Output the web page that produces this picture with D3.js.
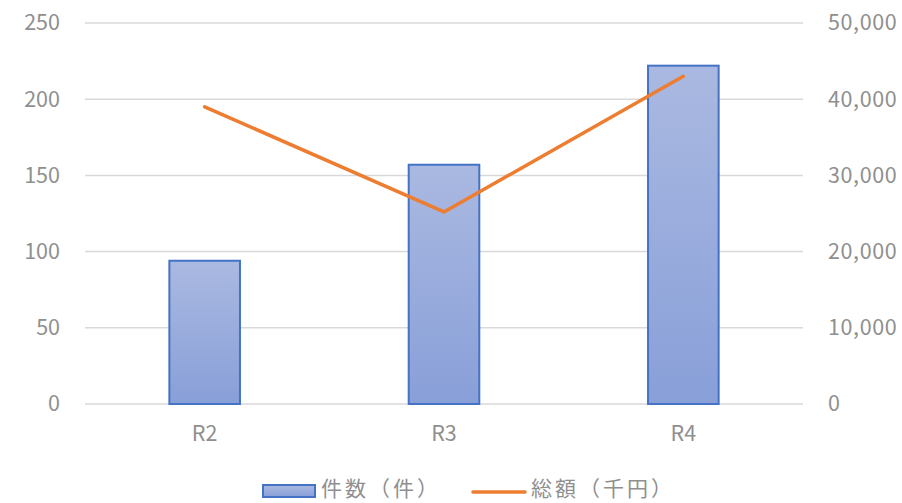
<!DOCTYPE html>
<html>
<head>
<meta charset="utf-8">
<script src="https://cdn.jsdelivr.net/npm/d3@7"></script>
<style>
  body { margin: 0; background: #fff; }
  text { font-family: "Noto Sans CJK JP", "Noto Sans", sans-serif; }
</style>
</head>
<body>
<div id="chart"></div>
<script>
// data
var categories = ["R2", "R3", "R4"];
var countValues = [94, 157, 222];        // 件数（件）
var amountValues = [39000, 25200, 43000]; // 総額（千円）
var leftTicks = [0, 50, 100, 150, 200, 250];
var rightTicks = [0, 10000, 20000, 30000, 40000, 50000];

var svgWidth = 902;
var svgHeight = 503;
var margin = { top: 23, right: 99, bottom: 99, left: 85 };
var width = svgWidth - margin.left - margin.right;
var height = svgHeight - margin.top - margin.bottom;
var textColor = "#8f8f8f";

var svg = d3.select("#chart")
    .append("svg")
    .attr("width", svgWidth)
    .attr("height", svgHeight);

var defs = svg.append("defs");
var grad = defs.append("linearGradient")
    .attr("id", "barGrad")
    .attr("x1", 0).attr("y1", 0).attr("x2", 0).attr("y2", 1);
grad.append("stop").attr("offset", "0%").attr("stop-color", "#aab9e1");
grad.append("stop").attr("offset", "100%").attr("stop-color", "#889fd8");

var chartGroup = svg.append("g")
    .attr("transform", `translate(${margin.left}, ${margin.top})`);

// scales
var xBand = d3.scaleBand()
    .domain(categories)
    .range([0, width])
    .paddingInner(0.705)
    .paddingOuter(0.3525);

var xCenter = d3.scaleBand().domain(categories).range([0, width]);

var yLeft = d3.scaleLinear().domain([0, 250]).range([height, 0]);
var yRight = d3.scaleLinear().domain([0, 50000]).range([height, 0]);

// gridlines
chartGroup.append("g")
    .selectAll("line")
    .data(leftTicks)
    .enter()
    .append("line")
    .attr("x1", 0)
    .attr("x2", width)
    .attr("y1", d => yLeft(d))
    .attr("y2", d => yLeft(d))
    .attr("stroke", "#d9d9d9")
    .attr("stroke-width", 1.5);

// left axis
var leftAxis = d3.axisLeft(yLeft).tickValues(leftTicks).tickSize(0).tickPadding(25);
var gLeft = chartGroup.append("g").call(leftAxis);
gLeft.select(".domain").remove();
gLeft.selectAll("text")
    .attr("fill", textColor)
    .attr("font-size", "21.5px");

// right axis
var rightAxis = d3.axisRight(yRight).tickValues(rightTicks).tickSize(0)
    .tickPadding(25).tickFormat(d3.format(","));
var gRight = chartGroup.append("g")
    .attr("transform", `translate(${width}, 0)`)
    .call(rightAxis);
gRight.select(".domain").remove();
gRight.selectAll("text")
    .attr("fill", textColor)
    .attr("font-size", "21.5px")
    .attr("letter-spacing", "0.6px");

// bottom axis
var bottomAxis = d3.axisBottom(xCenter).tickSize(0).tickPadding(22);
var gBottom = chartGroup.append("g")
    .attr("transform", `translate(0, ${height})`)
    .call(bottomAxis);
gBottom.select(".domain").remove();
gBottom.selectAll("text")
    .attr("fill", textColor)
    .attr("font-size", "21.5px");

// bars
chartGroup.append("g")
    .selectAll("rect")
    .data(countValues)
    .enter()
    .append("rect")
    .attr("x", (d, i) => xBand(categories[i]))
    .attr("y", d => yLeft(d))
    .attr("width", xBand.bandwidth())
    .attr("height", d => height - yLeft(d))
    .attr("fill", "url(#barGrad)")
    .attr("stroke", "#4472c4")
    .attr("stroke-width", 2);

// line
var line = d3.line()
    .x((d, i) => xCenter(categories[i]) + xCenter.bandwidth() / 2)
    .y(d => yRight(d));

chartGroup.append("path")
    .datum(amountValues)
    .attr("d", line)
    .attr("fill", "none")
    .attr("stroke", "#ed7d31")
    .attr("stroke-width", 3.5)
    .attr("stroke-linecap", "round")
    .attr("stroke-linejoin", "round");

// legend
var legend = svg.append("g").attr("transform", "translate(0, 490)");
legend.append("rect")
    .attr("x", 263).attr("y", -5)
    .attr("width", 52).attr("height", 12)
    .attr("fill", "url(#barGrad)")
    .attr("stroke", "#4472c4")
    .attr("stroke-width", 2);
legend.append("text")
    .attr("x", 321).attr("y", 0)
    .attr("dy", "0.3em")
    .attr("fill", textColor)
    .attr("font-size", "21px")
    .attr("letter-spacing", "3px")
    .text("件数（件）");
legend.append("line")
    .attr("x1", 473).attr("x2", 525)
    .attr("y1", 2).attr("y2", 2)
    .attr("stroke", "#ed7d31")
    .attr("stroke-width", 3.5)
    .attr("stroke-linecap", "round");
legend.append("text")
    .attr("x", 531).attr("y", 0)
    .attr("dy", "0.3em")
    .attr("fill", textColor)
    .attr("font-size", "21px")
    .attr("letter-spacing", "3px")
    .text("総額（千円）");
</script>
</body>
</html>
